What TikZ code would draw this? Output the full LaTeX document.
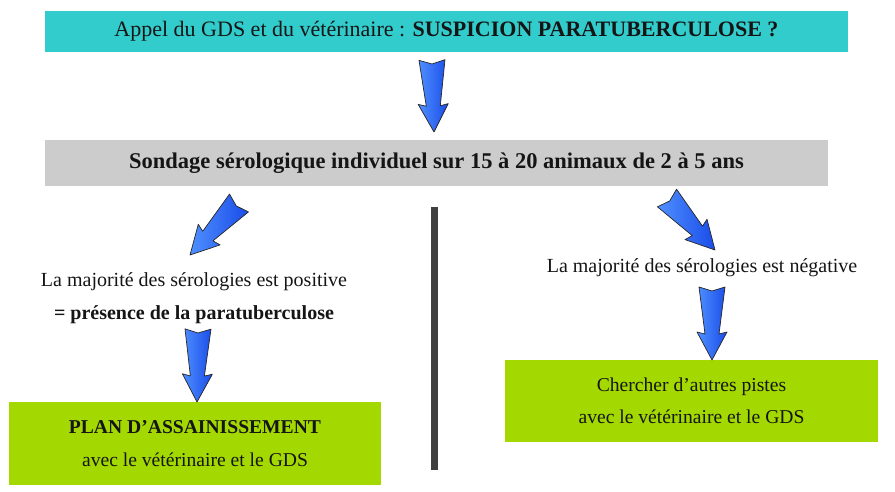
\documentclass[tikz,border=0pt]{standalone}
\usepackage{fontspec}
\setmainfont{Liberation Serif}
\usetikzlibrary{calc}
\definecolor{teal}{HTML}{33CCCC}
\definecolor{lgray}{HTML}{CCCCCC}
\definecolor{lgreen}{HTML}{A3D900}
\definecolor{bar}{HTML}{404040}
\definecolor{arrowlight}{HTML}{4F90FF}
\definecolor{arrowdark}{HTML}{1A4CE8}
\definecolor{ink}{HTML}{151515}
\tikzset{
  box/.style={inner sep=0pt, outer sep=0pt, align=center, text=ink},
  txt/.style={inner sep=0pt, align=center, text=ink},
  blockarrow/.style={draw=black!85, line width=0.7pt, line join=round,
    left color=arrowlight, right color=arrowdark,
    to path={
      ($(\tikztostart)!13pt!90:(\tikztotarget)$)
      -- ($(\tikztostart)!4pt!(\tikztotarget)$)
      -- ($(\tikztostart)!13pt!-90:(\tikztotarget)$)
      -- ($(\tikztotarget)!26pt!(\tikztostart)!7pt!90:(\tikztostart)$)
      -- ($(\tikztotarget)!28pt!(\tikztostart)!15pt!90:(\tikztostart)$)
      -- (\tikztotarget)
      -- ($(\tikztotarget)!28pt!(\tikztostart)!15pt!-90:(\tikztostart)$)
      -- ($(\tikztotarget)!26pt!(\tikztostart)!7pt!-90:(\tikztostart)$)
      -- cycle
    }}
}
\begin{document}
\begin{tikzpicture}[x=1pt,y=-1pt]
\useasboundingbox[fill=white] (0,0) rectangle (895,492);

\node[box, fill=teal, minimum width=803pt, minimum height=41pt, font=\fontsize{22}{26}\selectfont] (top) at (446.5,31.5)
  {Appel du GDS et du vétérinaire : \textbf{SUSPICION PARATUBERCULOSE ?}};

\node[box, fill=lgray, minimum width=783pt, minimum height=46pt, font=\bfseries\fontsize{22.5}{26}\selectfont] (sond) at (436.5,163)
  {Sondage sérologique individuel sur 15 à 20 animaux de 2 à 5 ans};

\node[txt, font=\fontsize{20}{33}\selectfont] (pos) at (194,298)
  {La majorité des sérologies est positive\\ \textbf{= présence de la paratuberculose}};

\node[txt, font=\fontsize{20}{33}\selectfont] (neg) at (702,268)
  {La majorité des sérologies est négative};

\node[box, fill=lgreen, minimum width=372pt, minimum height=83pt, font=\fontsize{19.6}{33}\selectfont] (plan) at (195,443.5)
  {\textbf{PLAN D’ASSAINISSEMENT}\\ avec le vétérinaire et le GDS};

\node[box, fill=lgreen, minimum width=373pt, minimum height=82pt, font=\fontsize{19.6}{32}\selectfont] (autres) at (691.5,401)
  {Chercher d’autres pistes\\ avec le vétérinaire et le GDS};

\node[box, fill=bar, minimum width=7pt, minimum height=263pt] (sep) at (434.5,338.5) {};

\coordinate (a1s) at (432,60);   \coordinate (a1t) at (434,132);
\coordinate (a2s) at (239,203);  \coordinate (a2t) at (190,255);
\coordinate (a3s) at (667,198);  \coordinate (a3t) at (715,250);
\coordinate (a4s) at (198,329);  \coordinate (a4t) at (197,402);
\coordinate (a5s) at (712,287);  \coordinate (a5t) at (712,360);

\path[blockarrow] (a1s) to (a1t);
\path[blockarrow] (a2s) to (a2t);
\path[blockarrow] (a3s) to (a3t);
\path[blockarrow] (a4s) to (a4t);
\path[blockarrow] (a5s) to (a5t);
\end{tikzpicture}
\end{document}
